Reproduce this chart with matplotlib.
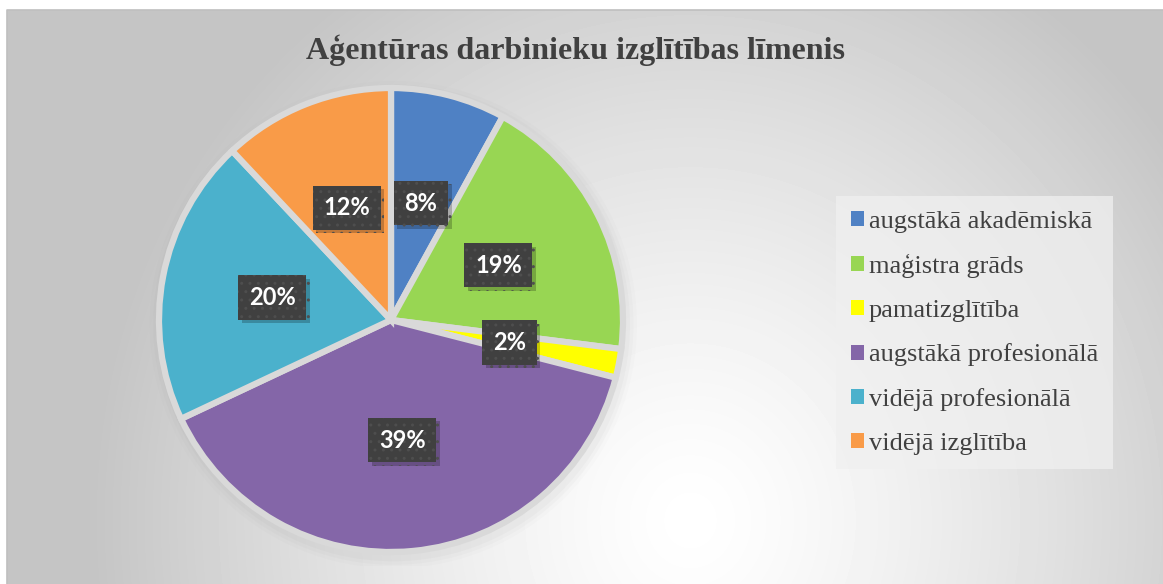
import numpy as np
import matplotlib
matplotlib.use('Agg')
import matplotlib.pyplot as plt
import matplotlib.patheffects as pe

# data, clockwise from 12 o'clock
categories = ['augstākā akadēmiskā', 'maģistra grāds', 'pamatizglītība',
              'augstākā profesionālā', 'vidējā profesionālā', 'vidējā izglītība']
shares = [8, 19, 2, 39, 20, 12]
colors = ['#4F81C4', '#98D653', '#FFFF00', '#8466A8', '#4BB1CC', '#F99B48']
title = 'Aģentūras darbinieku izglītības līmenis'

W, H = 1163, 584
fig = plt.figure(figsize=(W / 100, H / 100), dpi=100)
fig.patch.set_facecolor('white')

# radial gradient background
bg = fig.add_axes([7 / W, 0, 1 - 7 / W, 1 - 10 / H])
bg.axis('off')
xx, yy = np.meshgrid(np.arange(7, W), np.arange(10, H))
r = np.sqrt(((xx - 690) / 560.0) ** 2 + ((yy - 520) / 600.0) ** 2)
val = np.clip(1 - 0.21 * np.clip(r, 0, 1.1) ** 1.3, 0.77, 1)
bg.imshow(val, cmap='gray', vmin=0, vmax=1, aspect='auto',
          extent=[0, 1, 0, 1], interpolation='bilinear')
bg.set_xlim(0, 1)
bg.set_ylim(0, 1)
bg.plot([0, 0, 1], [0, 1, 1], color='#bfbfbf', lw=1.2, transform=bg.transAxes, clip_on=False)

fig.text(576 / W, 1 - 50 / H, title, ha='center', va='center',
         family='Liberation Serif', fontweight='bold', fontsize=23, color='#404040')

cx, cy, R = 391, 320, 232
pad = 1.06
ax = fig.add_axes([(cx - R * pad) / W, (H - cy - R * pad) / H, 2 * R * pad / W, 2 * R * pad / H])
ax.axis('off')

# soft shadow behind the pie
for k, a in zip([1.05, 1.035, 1.02], [0.025, 0.035, 0.045]):
    ax.add_patch(plt.Circle((0.01, -0.02), k, color='#808080', alpha=a, lw=0))

wedges, texts, autotexts = ax.pie(
    shares, colors=colors, startangle=90, counterclock=False,
    autopct='%d%%', pctdistance=0.52, radius=1,
    wedgeprops=dict(edgecolor='#d9d9d9', linewidth=4.5))
ax.set_xlim(-pad, pad)
ax.set_ylim(-pad, pad)

for t in autotexts:
    t.set_family('Lato')
    t.set_fontweight('bold')
    t.set_fontsize(17)
    t.set_color('white')
    t.set_bbox(dict(boxstyle='square,pad=0.45', facecolor='#404040',
                    edgecolor='#4e4e4e', linewidth=0, hatch='..'))
    t.get_bbox_patch().set_path_effects([
        pe.SimplePatchShadow(offset=(2.5, -2.5), shadow_rgbFace='#000000', alpha=0.22),
        pe.Normal()])

leg = fig.legend(wedges, categories, loc='upper left',
                 bbox_to_anchor=(836 / W, 1 - 196 / H),
                 prop={'family': 'Liberation Serif', 'size': 19},
                 labelcolor='#404040', frameon=True, fancybox=False,
                 facecolor='#f0f0f0', edgecolor='none', framealpha=0.75,
                 handlelength=0.5, handleheight=0.5, handletextpad=0.2,
                 labelspacing=0.82, borderpad=0.55, borderaxespad=0)
for h in leg.legend_handles:
    h.set_edgecolor('none')
    h.set_linewidth(0)

fig.savefig('out.png', dpi=100)
